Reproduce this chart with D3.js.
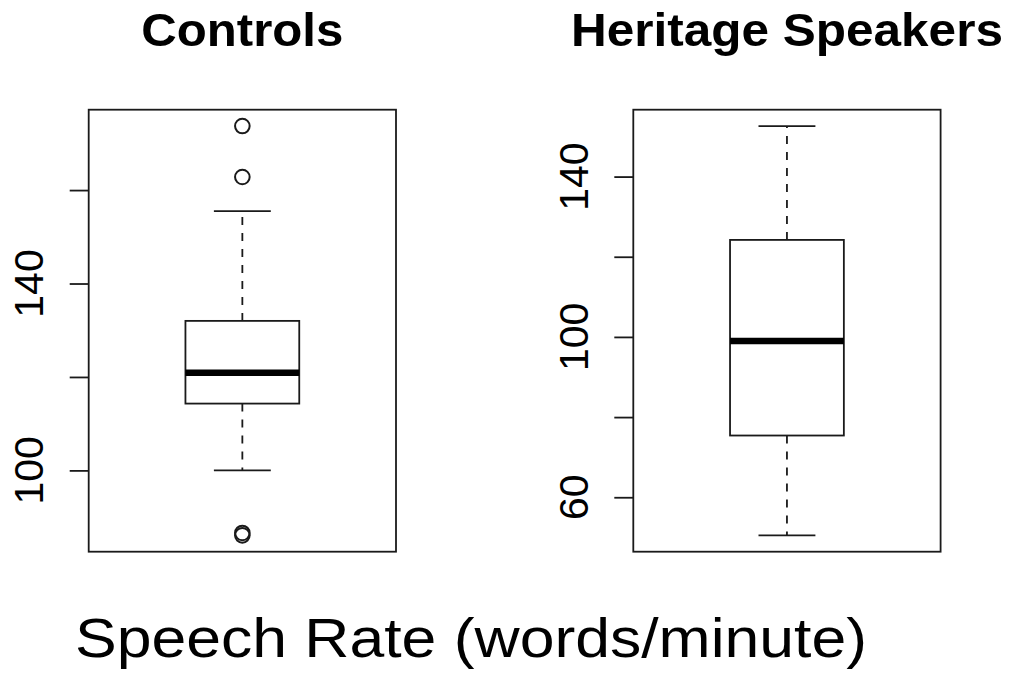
<!DOCTYPE html>
<html>
<head>
  <meta charset="utf-8">
  <title>Speech Rate</title>
  <script src="https://cdn.jsdelivr.net/npm/d3@7"></script>
</head>
<style>
  body { margin: 0; background: #fff; }
  svg text { font-family: "Liberation Sans", Arial, Helvetica, sans-serif; fill: #000; }
</style>
<body>
  <svg id="chart" width="1011" height="674"></svg>
  <script>
    // group names and the five-number summaries
    var groups = ['Controls', 'Heritage Speakers'];
    var lowerWhisker = [100, 50.5];
    var lowerHinge = [114.3, 75.4];
    var medians = [120.9, 99.0];
    var upperHinge = [132.0, 124.2];
    var upperWhisker = [155.5, 152.6];
    var outliers = [[173.7, 162.8, 86.6, 86.1], []];

    // y ticks per panel, and which of them carry a label
    var tickValues = [[100, 120, 140, 160], [60, 80, 100, 120, 140]];
    var tickLabels = [[100, 140], [60, 100, 140]];

    var xLabel = 'Speech Rate (words/minute)';

    var svg = d3.select('#chart');
    var panelLeft = [88.7, 633.3];
    var panelWidth = 307.3;
    var plotTop = 109.7, plotBottom = 551.7;
    var ink = '#1a1a1a', lw = 1.8;

    groups.forEach(function (name, i) {
      var all = [lowerWhisker[i], upperWhisker[i]].concat(outliers[i]);
      var lo = d3.min(all), hi = d3.max(all);
      var pad = (hi - lo) * 0.04;

      var y = d3.scaleLinear().domain([lo - pad, hi + pad]).range([plotBottom, plotTop]);
      var x = d3.scaleLinear().domain([0.46, 1.54])
        .range([panelLeft[i], panelLeft[i] + panelWidth]);

      var g = svg.append('g');

      // frame
      g.append('rect')
        .attr('x', x(0.46)).attr('y', plotTop)
        .attr('width', panelWidth).attr('height', plotBottom - plotTop)
        .attr('fill', 'none').attr('stroke', ink).attr('stroke-width', lw);

      // y axis ticks
      var axis = d3.axisLeft(y).tickValues(tickValues[i]).tickSize(19).tickFormat('');
      var ax = g.append('g').attr('transform', 'translate(' + x(0.46) + ',0)').call(axis);
      ax.select('.domain').remove();
      ax.selectAll('.tick line').attr('stroke', ink).attr('stroke-width', lw);

      g.selectAll('.ylab')
        .data(tickLabels[i])
        .enter().append('text')
        .attr('class', 'ylab')
        .attr('transform', function (d) {
          return 'translate(' + (x(0.46) - 45.5) + ',' + y(d) + ') rotate(-90)';
        })
        .attr('text-anchor', 'middle')
        .style('font-size', '41px')
        .text(function (d) { return d; });

      // whiskers
      var dash = '8,8';
      g.append('line')
        .attr('x1', x(1)).attr('x2', x(1))
        .attr('y1', y(upperHinge[i])).attr('y2', y(upperWhisker[i]))
        .attr('stroke', ink).attr('stroke-width', lw).attr('stroke-dasharray', dash);
      g.append('line')
        .attr('x1', x(1)).attr('x2', x(1))
        .attr('y1', y(lowerHinge[i])).attr('y2', y(lowerWhisker[i]))
        .attr('stroke', ink).attr('stroke-width', lw).attr('stroke-dasharray', dash);

      // staples
      [upperWhisker[i], lowerWhisker[i]].forEach(function (v) {
        g.append('line')
          .attr('x1', x(0.9)).attr('x2', x(1.1))
          .attr('y1', y(v)).attr('y2', y(v))
          .attr('stroke', ink).attr('stroke-width', lw);
      });

      // box
      g.append('rect')
        .attr('x', x(0.8)).attr('y', y(upperHinge[i]))
        .attr('width', x(1.2) - x(0.8))
        .attr('height', y(lowerHinge[i]) - y(upperHinge[i]))
        .attr('fill', '#fff').attr('stroke', ink).attr('stroke-width', lw);

      // median
      g.append('line')
        .attr('x1', x(0.8)).attr('x2', x(1.2))
        .attr('y1', y(medians[i])).attr('y2', y(medians[i]))
        .attr('stroke', '#000').attr('stroke-width', 6.5);

      // outliers
      g.selectAll('.out')
        .data(outliers[i])
        .enter().append('circle')
        .attr('class', 'out')
        .attr('cx', x(1)).attr('cy', function (d) { return y(d); })
        .attr('r', 7.3)
        .attr('fill', 'none').attr('stroke', ink).attr('stroke-width', 2);

      // title
      g.append('text')
        .attr('x', x(1)).attr('y', 46)
        .attr('text-anchor', 'middle')
        .style('font-size', '47px').style('font-weight', 'bold')
        .attr('textLength', i === 0 ? 202 : 432)
        .attr('lengthAdjust', 'spacingAndGlyphs')
        .text(name);
    });

    svg.append('text')
      .attr('x', 471).attr('y', 657)
      .attr('text-anchor', 'middle')
      .style('font-size', '56px')
      .attr('textLength', 792)
      .attr('lengthAdjust', 'spacingAndGlyphs')
      .text(xLabel);
  </script>
</body>
</html>
